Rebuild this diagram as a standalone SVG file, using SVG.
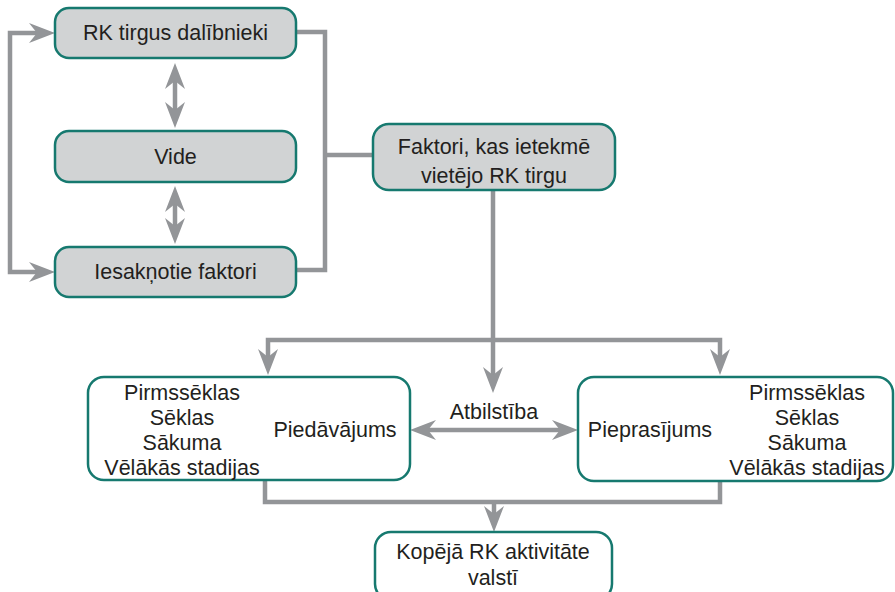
<svg xmlns="http://www.w3.org/2000/svg" width="895" height="592" viewBox="0 0 895 592">
<style>
.box{fill:#d1d3d4;stroke:#16796f;stroke-width:2.5}
.wbox{fill:#ffffff;stroke:#16796f;stroke-width:2.5}
.t{font-family:"Liberation Sans",Arial,sans-serif;font-size:21.5px;fill:#231f20;text-anchor:middle}
.c{fill:none;stroke:#939598;stroke-width:4.5}
</style>
<defs>
<marker id="ah" markerUnits="userSpaceOnUse" markerWidth="30" markerHeight="24" refX="8" refY="11" orient="auto-start-reverse" overflow="visible">
<path d="M0,1 L26,11 L0,21 L8,11 Z" fill="#939598"/>
</marker>
</defs>
<g id="connectors">
<path class="c" d="M37,33 H10 V272 H37" marker-start="url(#ah)" marker-end="url(#ah)"/>
<path class="c" d="M296,32 H325 V270 H296"/>
<path class="c" d="M325,155 H373"/>
<path class="c" d="M175,81 V110" marker-start="url(#ah)" marker-end="url(#ah)"/>
<path class="c" d="M175,204 V226" marker-start="url(#ah)" marker-end="url(#ah)"/>
<path class="c" d="M493,190 V340"/>
<path class="c" d="M268,357 V340 H720 V357" marker-start="url(#ah)" marker-end="url(#ah)"/>
<path class="c" d="M493,340 V375" marker-end="url(#ah)"/>
<path class="c" d="M428,430 H560" marker-start="url(#ah)" marker-end="url(#ah)"/>
<path class="c" d="M265,480 V502 H720 V480"/>
<path class="c" d="M494,502 V514" marker-end="url(#ah)"/>
</g>
<g id="n-dalibnieki">
<rect class="box" x="55" y="8" width="241" height="50" rx="14"/>
<text class="t" x="175.5" y="40">RK tirgus dalībnieki</text>
</g>
<g id="n-vide">
<rect class="box" x="55" y="131" width="241" height="51" rx="14"/>
<text class="t" x="175.5" y="164">Vide</text>
</g>
<g id="n-iesaknotie">
<rect class="box" x="55" y="247" width="241" height="50" rx="14"/>
<text class="t" x="175.5" y="279">Iesakņotie faktori</text>
</g>
<g id="n-faktori">
<rect class="box" x="373" y="124" width="242" height="66" rx="16"/>
<text class="t" x="494" y="154">Faktori, kas ietekmē</text>
<text class="t" x="494" y="183">vietējo RK tirgu</text>
</g>
<g id="n-piedavajums">
<rect class="wbox" x="88" y="377" width="322" height="103" rx="16"/>
<text class="t" x="182" y="400">Pirmssēklas</text>
<text class="t" x="182" y="425">Sēklas</text>
<text class="t" x="182" y="450">Sākuma</text>
<text class="t" x="182" y="475">Vēlākās stadijas</text>
<text class="t" x="335" y="437">Piedāvājums</text>
</g>
<g id="n-atbilstiba">
<text class="t" x="494" y="419">Atbilstība</text>
</g>
<g id="n-pieprasijums">
<rect class="wbox" x="578" y="377" width="315" height="104" rx="16"/>
<text class="t" x="650" y="437">Pieprasījums</text>
<text class="t" x="807" y="400">Pirmssēklas</text>
<text class="t" x="807" y="425">Sēklas</text>
<text class="t" x="807" y="450">Sākuma</text>
<text class="t" x="807" y="475">Vēlākās stadijas</text>
</g>
<g id="n-kopeja">
<rect class="wbox" x="375" y="532" width="237" height="68" rx="16"/>
<text class="t" x="493" y="559">Kopējā RK aktivitāte</text>
<text class="t" x="493" y="585">valstī</text>
</g>
</svg>
